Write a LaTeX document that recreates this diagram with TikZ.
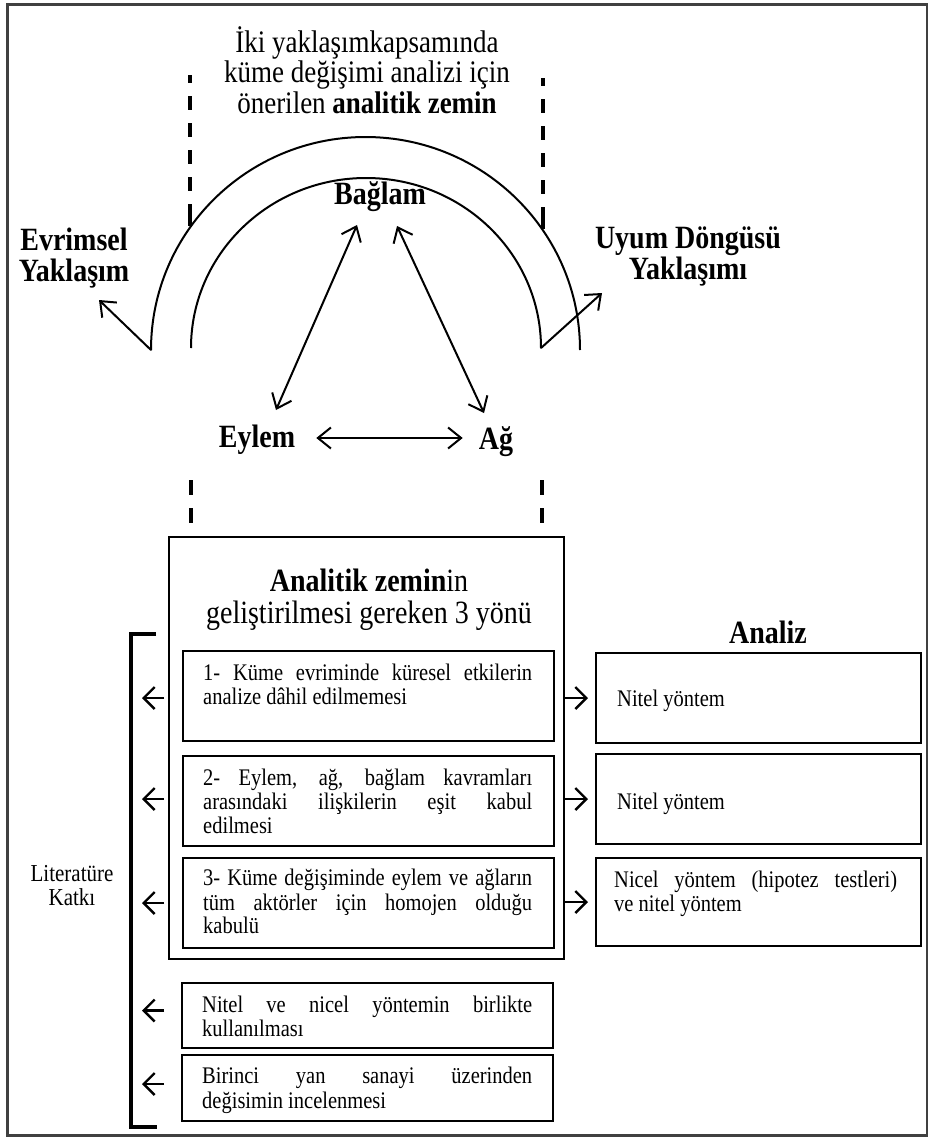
\documentclass[tikz,border=0pt]{standalone}
\usepackage{fontspec}
\usepackage{graphicx}
\setmainfont{Liberation Serif}
\usetikzlibrary{arrows.meta}
\newcommand{\vs}[1]{\scalebox{1}[1.16]{#1}}
\newcommand{\cpar}[2]{\vs{\parbox{#1}{\centering #2}}}
\newcommand{\jpar}[2]{\vs{\parbox[t]{#1}{\hyphenpenalty=10000 \exhyphenpenalty=10000 \strut #2}}}
\begin{document}
\begin{tikzpicture}[x=1pt,y=-1pt,
  frame/.style={draw=black!75, line width=2.5pt},
  title/.style={font=\fontsize{27}{26.3}\selectfont, inner sep=0pt},
  lbl/.style={font=\fontsize{28}{26.7}\selectfont\bfseries, inner sep=0pt},
  head/.style={font=\fontsize{28}{27.6}\selectfont, inner sep=0pt},
  curve/.style={line width=2pt},
  dashtop/.style={line width=3.5pt, dash pattern=on 22pt off 13.5pt on 13.5pt off 13.5pt on 13.5pt off 13.5pt on 13.5pt off 13.5pt on 13.5pt off 13.5pt on 8pt off 100pt},
  dashlow/.style={line width=3.5pt, dash pattern=on 15pt off 13pt},
  marrow/.style={line width=2pt, line cap=round},
  mtip/.tip={Straight Barb[length=13pt,width=21pt]},
  stip/.tip={Straight Barb[length=11pt,width=22pt]},
  sarrow/.style={line width=2.4pt, -stip},
  box/.style={draw, line width=2pt, anchor=north west, inner sep=0pt},
  txt/.style={font=\fontsize{20.5}{20.26}\selectfont, inner sep=0pt, anchor=north west},
  plain/.style={font=\fontsize{20.5}{20.26}\selectfont, inner sep=0pt},
  small/.style={font=\fontsize{21}{20.7}\selectfont, inner sep=0pt}
]
\useasboundingbox (0,0) rectangle (930,1138);
\draw[frame] (7.5,4.5) rectangle (927,1135.5);

% title
\node[title] (title) at (367,70) {\cpar{330pt}{İki yaklaşımkapsamında\\küme değişimi analizi için\\önerilen \textbf{analitik zemin}}};

% dashed guides
\draw[dashtop] (190,226) -- (190,75);
\draw[dashtop] (543,229) -- (543,75);

% arcs
\coordinate (oL) at (151,350);
\coordinate (iL) at (191,348);
\coordinate (iR) at (541,348);
\draw[curve] (oL) arc[start angle=180, end angle=0, x radius=214.5pt, y radius=213pt];
\draw[curve] (iL) arc[start angle=180, end angle=0, x radius=175pt, y radius=170pt];

% labels
\node[lbl] (baglam) at (380,197) {\vs{Bağlam}};
\node[lbl] (evrim) at (74,258) {\cpar{160pt}{Evrimsel\\Yaklaşım}};
\node[lbl] (uyum) at (688,256) {\cpar{220pt}{Uyum Döngüsü\\Yaklaşımı}};
\node[lbl] (eylem) at (257,440) {\vs{Eylem}};
\node[lbl] (ag) at (496,442) {\vs{Ağ}};

% arrows of the triangle
\coordinate (bgL) at (357,225);
\coordinate (eyT) at (276,410);
\coordinate (bgR) at (397,226);
\coordinate (agT) at (484,413);
\coordinate (evT) at (99,300);
\coordinate (uyT) at (602,293);
\draw[marrow, mtip-mtip] (bgL) -- (eyT);
\draw[marrow, mtip-mtip] (bgR) -- (agT);
\draw[marrow, mtip-mtip] ([xshift=21pt,yshift=2pt]eylem.east) -- ([xshift=-16pt,yshift=2pt]eylem.east -| ag.west);
\draw[marrow, -mtip] (oL) -- (evT);
\draw[marrow, -mtip] (iR) -- (uyT);

% lower dashed guides
\draw[dashlow] (191,480) -- (191,524);
\draw[dashlow] (542,480) -- (542,524);

% big box
\node[box, minimum width=395pt, minimum height=422pt] (big) at (168,536) {};
\node[head] (bighead) at (369,600) {\cpar{380pt}{\textbf{Analitik zemin}in\\geliştirilmesi gereken 3 yönü}};

% inner boxes
\node[box, minimum width=371pt, minimum height=90pt] (b1) at (182,650) {};
\node[box, minimum width=371pt, minimum height=90pt] (b2) at (182,755) {};
\node[box, minimum width=371pt, minimum height=90pt] (b3) at (182,857) {};
\node[box, minimum width=371pt, minimum height=65pt] (b4) at (181,982) {};
\node[box, minimum width=371pt, minimum height=66pt] (b5) at (181,1054) {};

\node[txt] (t1) at ([xshift=21pt,yshift=-13.5pt]b1.north west) {\jpar{329pt}{1- Küme evriminde küresel etkilerin\linebreak analize dâhil edilmemesi}};
\node[txt] (t2) at ([xshift=21pt,yshift=-13.5pt]b2.north west) {\jpar{329pt}{2- Eylem, ağ, bağlam kavramları\linebreak arasındaki ilişkilerin eşit kabul\linebreak edilmesi}};
\node[txt] (t3) at ([xshift=21pt,yshift=-12pt]b3.north west) {\jpar{329pt}{3- Küme değişiminde eylem ve ağların\linebreak tüm aktörler için homojen olduğu\linebreak kabulü}};
\node[txt] (t4) at ([xshift=21pt,yshift=-13.5pt]b4.north west) {\jpar{330pt}{Nitel ve nicel yöntemin birlikte\linebreak kullanılması}};
\node[txt] (t5) at ([xshift=21pt,yshift=-13pt]b5.north west) {\jpar{330pt}{Birinci yan sanayi üzerinden\linebreak değisimin incelenmesi}};

% analysis column
\node[lbl] (analiz) at (768,632) {\vs{Analiz}};
\node[box, minimum width=325pt, minimum height=90pt] (r1) at (595,652) {};
\node[box, minimum width=325pt, minimum height=90pt] (r2) at (595,753) {};
\node[box, minimum width=325pt, minimum height=88pt] (r3) at (595,857) {};
\node[plain, anchor=base west] (rt1) at ([xshift=22pt,yshift=-8pt]r1.west) {\vs{Nitel yöntem}};
\node[plain, anchor=base west] (rt2) at ([xshift=22pt,yshift=-10pt]r2.west) {\vs{Nitel yöntem}};
\node[txt] (rt3) at ([xshift=19pt,yshift=-13.5pt]r3.north west) {\jpar{283pt}{Nicel yöntem (hipotez testleri)\linebreak ve nitel yöntem}};

% arrows to analysis
\draw[sarrow] (big.east |- r1.west) -- ([xshift=-7pt]r1.west);
\draw[sarrow] (big.east |- r2.west) -- ([xshift=-7pt]r2.west);
\draw[sarrow] (big.east |- r3.west) -- ([xshift=-7pt]r3.west);

% bracket and literature arrows
\draw[line width=3.5pt] (156,634) -- (131,634) -- (131,1127) -- (157,1127);
\node[small] (lit) at (72,886) {\cpar{120pt}{Literatüre\\Katkı}};
\draw[sarrow] ([xshift=-18pt,yshift=-2pt]b1.west) -- ([xshift=-40pt,yshift=-2pt]b1.west);
\draw[sarrow] ([xshift=-18pt,yshift=2pt]b2.west) -- ([xshift=-40pt,yshift=2pt]b2.west);
\draw[sarrow] ([xshift=-18pt]b3.west) -- ([xshift=-40pt]b3.west);
\draw[sarrow] ([xshift=-17pt,yshift=5pt]b4.west) -- ([xshift=-39pt,yshift=5pt]b4.west);
\draw[sarrow] ([xshift=-17pt,yshift=4pt]b5.west) -- ([xshift=-39pt,yshift=4pt]b5.west);
\end{tikzpicture}
\end{document}
